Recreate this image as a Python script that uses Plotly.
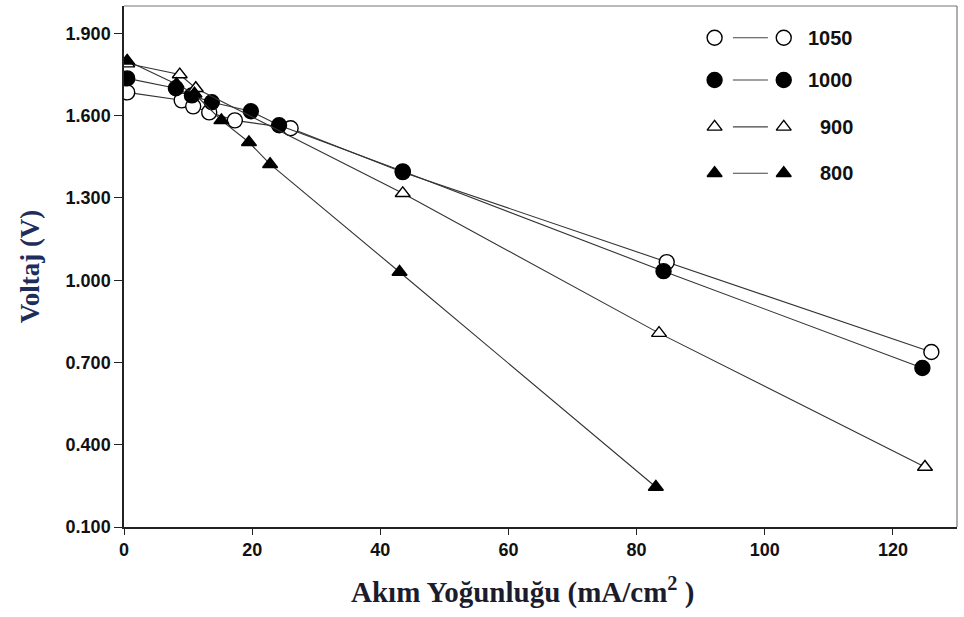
import plotly.graph_objects as go

# ---- data ----
x_1050 = [0.5, 9.0, 10.8, 13.3, 17.3, 26.0, 43.5, 84.7, 126.0]
y_1050 = [1.685, 1.656, 1.634, 1.612, 1.583, 1.554, 1.394, 1.066, 0.738]

x_1000 = [0.5, 8.1, 10.6, 13.7, 19.8, 24.2, 43.5, 84.2, 124.6]
y_1000 = [1.736, 1.700, 1.674, 1.649, 1.616, 1.565, 1.397, 1.033, 0.680]

x_900 = [0.5, 8.7, 11.2, 43.5, 83.5, 125.0]
y_900 = [1.790, 1.750, 1.700, 1.317, 0.807, 0.319]

x_800 = [0.5, 8.2, 11.0, 15.2, 19.5, 22.8, 43.0, 83.0]
y_800 = [1.800, 1.715, 1.680, 1.583, 1.503, 1.423, 1.030, 0.246]

series_names = ["1050", "1000", "900", "800"]
x_ticks = [0, 20, 40, 60, 80, 100, 120]
y_ticks = [0.1, 0.4, 0.7, 1.0, 1.3, 1.6, 1.9]

styles = {
    "1050": dict(symbol="circle", fill="white", size=15),
    "1000": dict(symbol="circle", fill="black", size=15),
    "900": dict(symbol="triangle-up", fill="white", size=13),
    "800": dict(symbol="triangle-up", fill="black", size=13),
}
data = {"1050": (x_1050, y_1050), "1000": (x_1000, y_1000),
        "900": (x_900, y_900), "800": (x_800, y_800)}

fig = go.Figure()
for name in series_names:
    xs, ys = data[name]
    st = styles[name]
    fig.add_trace(go.Scatter(
        x=xs, y=ys, mode="lines+markers", name=name, showlegend=False,
        line=dict(color="#333333", width=1.1),
        marker=dict(symbol=st["symbol"], size=st["size"], color=st["fill"],
                    line=dict(color="black", width=1.4)),
    ))

# ---- custom legend (marker — line — marker  label) on an overlay axis ----
leg_y = [0.939, 0.858, 0.768, 0.679]
for name, ly in zip(series_names, leg_y):
    st = styles[name]
    fig.add_trace(go.Scatter(
        x=[0.731, 0.773], y=[ly, ly], mode="lines", xaxis="x2", yaxis="y2",
        showlegend=False, hoverinfo="skip",
        line=dict(color="#444444", width=1.1)))
    fig.add_trace(go.Scatter(
        x=[0.709, 0.792], y=[ly, ly], mode="markers", xaxis="x2", yaxis="y2",
        showlegend=False, hoverinfo="skip",
        marker=dict(symbol=st["symbol"], size=st["size"], color=st["fill"],
                    line=dict(color="black", width=1.4))))
    fig.add_annotation(x=0.877, y=ly, xref="x2", yref="y2", text=f"<b>{name}</b>",
                       showarrow=False, xanchor="right", yanchor="middle",
                       font=dict(family="Liberation Sans, Arial", size=20, color="#111111"))

# axis titles
fig.add_annotation(x=0.478, y=-0.121, xref="paper", yref="paper",
                   text="<b>Akım Yoğunluğu (mA/cm<sup>2</sup> )</b>",
                   showarrow=False, xanchor="center", yanchor="middle",
                   font=dict(family="Liberation Serif, Times New Roman", size=29, color="#1c1c2e"))
fig.add_annotation(x=-0.113, y=0.50, xref="paper", yref="paper",
                   text="<b>Voltaj (V)</b>", textangle=-90,
                   showarrow=False, xanchor="center", yanchor="middle",
                   font=dict(family="Liberation Serif, Times New Roman", size=27, color="#1f2d5c"))

# frame top/right (lighter)
fig.add_shape(type="line", xref="paper", yref="paper", x0=0, x1=1, y0=1, y1=1,
              line=dict(color="#777777", width=1.2))
fig.add_shape(type="line", xref="paper", yref="paper", x0=1, x1=1, y0=0, y1=1,
              line=dict(color="#777777", width=1.2))

tick_font = dict(family="Liberation Sans, Arial", size=18, color="#111111")
fig.update_layout(
    width=964, height=617,
    margin=dict(l=124, r=7, t=6, b=90),
    paper_bgcolor="white", plot_bgcolor="white",
    font=dict(family="Liberation Sans, Arial", color="#111111"),
    xaxis=dict(range=[0, 130], tickvals=x_ticks, ticktext=[f"<b>{v}</b>" for v in x_ticks],
               showgrid=False, zeroline=False, showline=True, linecolor="#222222",
               linewidth=1.5, ticks="outside", ticklen=6, tickcolor="#222222",
               tickfont=tick_font, automargin=False),
    yaxis=dict(range=[0.1, 2.0], tickvals=y_ticks,
               ticktext=[f"<b>{v:.3f}</b>" for v in y_ticks],
               showgrid=False, zeroline=False, showline=True, linecolor="#222222",
               linewidth=1.5, ticks="outside", ticklen=8, tickcolor="#222222",
               tickfont=tick_font, automargin=False),
    xaxis2=dict(range=[0, 1], overlaying="x", visible=False, fixedrange=True),
    yaxis2=dict(range=[0, 1], overlaying="y", visible=False, fixedrange=True),
)

fig.write_html("out.html", config={"displayModeBar": False},
               post_script="document.body.style.margin='0';")
